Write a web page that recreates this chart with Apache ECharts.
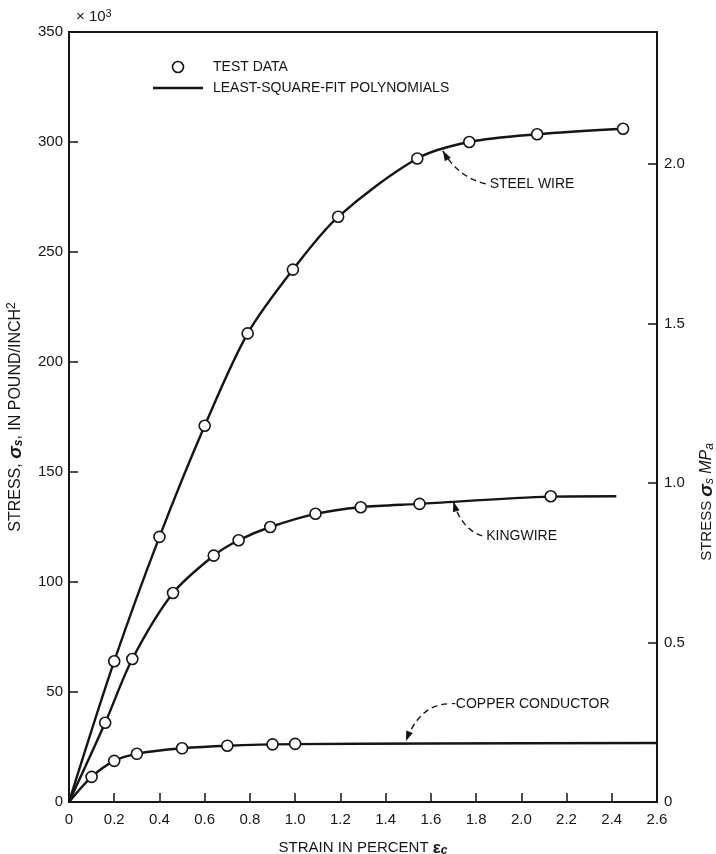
<!DOCTYPE html>
<html>
<head>
<meta charset="utf-8">
<script src="https://cdn.jsdelivr.net/npm/echarts@6/dist/echarts.min.js"></script>
<style>
  html, body { margin: 0; background: #fff; }
  #chart { width: 716px; height: 854px; }
</style>
</head>
<body>
<div id="chart"></div>
<script>
// test data (strain %, stress ksi)
const steelStrain  = [0.2, 0.4, 0.6, 0.79, 0.99, 1.19, 1.54, 1.77, 2.07, 2.45];
const steelStress  = [64, 120.5, 171, 213, 242, 266, 292.5, 300, 303.5, 306];
const kingStrain   = [0.16, 0.28, 0.46, 0.64, 0.75, 0.89, 1.09, 1.29, 1.55, 2.13];
const kingStress   = [36, 65, 95, 112, 119, 125, 131, 134, 135.5, 139];
const copperStrain = [0.1, 0.2, 0.3, 0.5, 0.7, 0.9, 1.0];
const copperStress = [11.4, 18.7, 21.9, 24.4, 25.6, 26.2, 26.4];

// fitted curves
const steelFitX  = [0, 0.2, 0.4, 0.6, 0.79, 0.99, 1.19, 1.54, 1.77, 2.07, 2.45];
const steelFitY  = [0, 64, 120.5, 171, 213, 242, 266, 292.5, 300, 303.5, 306];
const kingFitX   = [0, 0.16, 0.28, 0.46, 0.64, 0.75, 0.89, 1.09, 1.29, 1.55, 2.13, 2.42];
const kingFitY   = [0, 36, 65, 95, 112, 119, 125, 131, 134, 135.5, 138.8, 139];
const copperFitX = [0, 0.1, 0.2, 0.3, 0.5, 0.7, 1.0, 1.6, 2.6];
const copperFitY = [0, 11.4, 18.7, 21.9, 24.4, 25.6, 26.3, 26.6, 26.8];

const xTicks = { min: 0, max: 2.6, step: 0.2 };
const yTicks = { min: 0, max: 350, step: 50 };
const mpaPerKsi = 0.006895;

// callouts: label anchor, arrow tip, bend point (data coords)
const callouts = [
  { text: "STEEL WIRE",         label: [1.86, 281], tip: [1.653, 296], bend: [1.72, 284] },
  { text: "KINGWIRE",           label: [1.845, 121], tip: [1.70, 136.5], bend: [1.735, 124] },
  { text: "-COPPER CONDUCTOR",  label: [1.69, 44.6], tip: [1.49, 27.7], bend: [1.55, 44] },
];

const FONT = "Liberation Sans";
const INK = "#151515";
const zip = (a, b) => a.map((v, i) => [v, b[i]]);

const chart = echarts.init(document.getElementById("chart"));

const fitStyle = (data) => ({
  name: "LEAST-SQUARE-FIT POLYNOMIALS", type: "line", data,
  smooth: 0.3, symbol: "none",
  lineStyle: { color: INK, width: 2.4 }, itemStyle: { color: INK }, z: 2
});
const dotStyle = (data) => ({
  name: "TEST DATA", type: "scatter", data, symbol: "circle", symbolSize: 11,
  itemStyle: { color: "#fff", borderColor: INK, borderWidth: 1.6, opacity: 1 }, z: 3
});

const option = {
  animation: false,
  backgroundColor: "#fff",
  textStyle: { fontFamily: FONT, color: INK },
  grid: { left: 69, right: 59, top: 32, bottom: 52, outerBoundsMode: "none", containLabel: false,
    show: true, borderColor: INK, borderWidth: 2 },
  legend: {
    left: 153, top: 60, padding: 0, orient: "vertical", itemWidth: 50, itemHeight: 11, itemGap: 7,
    textStyle: { fontFamily: FONT, fontSize: 14, color: INK, padding: [0, 0, 0, 5] },
    data: [
      { name: "TEST DATA", icon: "circle", itemStyle: { color: "#fff", borderColor: INK, borderWidth: 1.6 } },
      { name: "LEAST-SQUARE-FIT POLYNOMIALS", icon: "path://M0 0H50V2.4H0Z", itemStyle: { color: INK, borderWidth: 0 } }
    ]
  },
  xAxis: {
    type: "value", min: xTicks.min, max: xTicks.max, interval: xTicks.step,
    axisLine: { lineStyle: { color: INK, width: 2 } },
    axisTick: { inside: true, length: 9, lineStyle: { color: INK, width: 1.5 } },
    axisLabel: { fontFamily: FONT, fontSize: 15, color: INK, margin: 10,
      formatter: v => v === 0 ? "0" : v.toFixed(1) },
    splitLine: { show: false },
    name: "STRAIN IN PERCENT {e|ε}{sub|c}", nameLocation: "middle", nameGap: 37,
    nameTextStyle: { fontFamily: FONT, fontSize: 15, color: INK,
      rich: {
        e: { fontFamily: FONT, fontSize: 17, fontWeight: "bold", color: INK },
        sub: { fontFamily: FONT, fontSize: 12, fontStyle: "italic", fontWeight: "bold", color: INK, verticalAlign: "bottom", padding: [6, 0, 0, 0] }
      } }
  },
  yAxis: [
    {
      type: "value", min: yTicks.min, max: yTicks.max, interval: yTicks.step, position: "left",
      axisLine: { show: true, lineStyle: { color: INK, width: 2 } },
      axisTick: { show: true, inside: true, length: 9, lineStyle: { color: INK, width: 1.5 } },
      axisLabel: { fontFamily: FONT, fontSize: 15, color: INK, margin: 6 },
      splitLine: { show: false },
      name: "STRESS, {s|σ}{sub|s}, IN POUND/INCH{sup|2}", nameLocation: "middle", nameGap: 44, nameRotate: 90,
      nameTextStyle: { fontFamily: FONT, fontSize: 16, color: INK,
        rich: {
          s: { fontFamily: FONT, fontSize: 19, fontWeight: "bold", fontStyle: "italic", color: INK },
          sub: { fontFamily: FONT, fontSize: 12, fontStyle: "italic", fontWeight: "bold", color: INK, verticalAlign: "bottom", padding: [6, 0, 0, 0] },
          sup: { fontFamily: FONT, fontSize: 12, color: INK, verticalAlign: "top", padding: [0, 0, 7, 0] }
        } }
    },
    {
      type: "value", min: 0, max: yTicks.max * mpaPerKsi, interval: 0.5, position: "right",
      axisLine: { show: true, lineStyle: { color: INK, width: 2 } },
      axisTick: { show: true, inside: true, length: 9, lineStyle: { color: INK, width: 1.5 } },
      axisLabel: { fontFamily: FONT, fontSize: 15, color: INK, margin: 7, showMaxLabel: false,
        formatter: v => v === 0 ? "0" : v.toFixed(1) },
      splitLine: { show: false },
      name: "STRESS {s|σ}{sub|s} {m|MP}{sub|a}", nameLocation: "middle", nameGap: 40, nameRotate: 90,
      nameTextStyle: { fontFamily: FONT, fontSize: 15, color: INK, padding: [0, 170, 0, 0],
        rich: {
          s: { fontFamily: FONT, fontSize: 19, fontWeight: "bold", fontStyle: "italic", color: INK },
          m: { fontFamily: FONT, fontSize: 16, fontStyle: "italic", color: INK },
          sub: { fontFamily: FONT, fontSize: 12, fontStyle: "italic", color: INK, verticalAlign: "bottom", padding: [6, 0, 0, 0] }
        } }
    }
  ],
  series: [
    fitStyle(zip(steelFitX, steelFitY)),
    fitStyle(zip(kingFitX, kingFitY)),
    fitStyle(zip(copperFitX, copperFitY)),
    dotStyle(zip(steelStrain, steelStress)),
    dotStyle(zip(kingStrain, kingStress)),
    dotStyle(zip(copperStrain, copperStress))
  ]
};

chart.setOption(option);

// callout text + dashed curved arrows, placed through the grid's own scale
const px = p => chart.convertToPixel({ gridIndex: 0 }, p);
const graphics = [{
  type: "text", left: 76, top: 8,
  style: { text: "× 10{sup|3}", fontFamily: FONT, fontSize: 15, fill: INK,
    rich: { sup: { fontFamily: FONT, fontSize: 11, verticalAlign: "top", padding: [0, 0, 7, 0] } } }
}];
callouts.forEach(c => {
  const l = px(c.label), t = px(c.tip), b = px(c.bend);
  const start = [l[0] - 4, l[1]];
  graphics.push({
    type: "text", x: l[0], y: l[1],
    style: { text: c.text, fontFamily: FONT, fontSize: 14, fill: INK, align: "left", verticalAlign: "middle" }
  });
  graphics.push({
    type: "bezierCurve",
    shape: { x1: start[0], y1: start[1], x2: t[0], y2: t[1], cpx1: b[0], cpy1: b[1] },
    style: { stroke: INK, lineWidth: 1.4, lineDash: [6, 4], fill: null }
  });
  const ang = Math.atan2(t[1] - b[1], t[0] - b[0]);
  const len = 10, half = 3.5;
  const bx = t[0] - len * Math.cos(ang), by = t[1] - len * Math.sin(ang);
  graphics.push({
    type: "polygon",
    shape: { points: [
      [t[0], t[1]],
      [bx + half * Math.sin(ang), by - half * Math.cos(ang)],
      [bx - half * Math.sin(ang), by + half * Math.cos(ang)]
    ] },
    style: { fill: INK }
  });
});
chart.setOption({ graphic: graphics });
</script>
</body>
</html>
